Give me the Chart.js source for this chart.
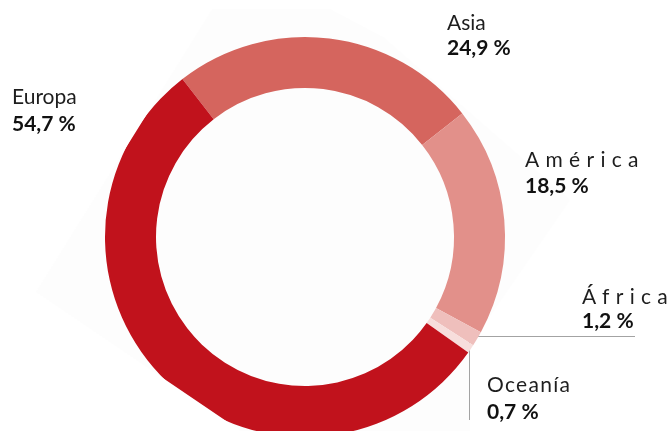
<!DOCTYPE html>
<html lang="es">
<head>
<meta charset="UTF-8">
<title>Distribución por continentes</title>
<script src="https://cdn.jsdelivr.net/npm/chart.js"></script>
<style>
  html, body { margin: 0; padding: 0; background: #ffffff; overflow: hidden; }
  #wrap { position: relative; width: 670px; height: 440px; }
</style>
</head>
<body>
<div id="wrap"><canvas id="donut"></canvas></div>
<script>
// Shares by region, clockwise starting from Asia
const regions = ["Asia", "América", "África", "Oceanía", "Europa"];
const shares = [24.9, 18.5, 1.2, 0.7, 54.7];
const colors = ["#d5655e", "#e2908a", "#efbfbc", "#f7dedc", "#c1121c"];

// Label placement: x, baseline of name, baseline of value, letter spacing
const labelPos = {
  "Asia":    { x: 447, y1: 30,  y2: 55,  spacing: 0 },
  "América": { x: 525, y1: 167, y2: 193, spacing: 6.3 },
  "África":  { x: 582, y1: 304, y2: 328, spacing: 6.3 },
  "Oceanía": { x: 487, y1: 392, y2: 419, spacing: 1.3 },
  "Europa":  { x: 12,  y1: 104, y2: 131, spacing: 0 }
};

const fmt = (v) => v.toFixed(1).replace(".", ",") + " %";

// faint backdrop shape behind the ring, and the white area that cuts its left side
const backdrop = [[212, 9], [330, 9], [383, 37], [570, 200], [470, 345], [470, 431], [241, 431], [36, 292]];
const cutaway = [[0, 0], [218, 0], [36, 292], [241, 431], [0, 431]];

function fillPoly(ctx, pts, color) {
  ctx.beginPath();
  pts.forEach(([x, y], i) => (i ? ctx.lineTo(x, y) : ctx.moveTo(x, y)));
  ctx.closePath();
  ctx.fillStyle = color;
  ctx.fill();
}

const decor = {
  id: "decor",
  beforeDraw(chart) {
    const ctx = chart.ctx;
    ctx.save();
    ctx.fillStyle = "#ffffff";
    ctx.fillRect(0, 0, chart.width, chart.height);
    fillPoly(ctx, backdrop, "#fdfdfd");
    ctx.restore();
  },
  beforeDatasetsDraw(chart) {
    // leader lines for the two small slices, partly hidden under the ring
    const ctx = chart.ctx;
    ctx.save();
    ctx.strokeStyle = "#a3a3a3";
    ctx.lineWidth = 1;
    ctx.beginPath();
    ctx.moveTo(469.5, 336.5);
    ctx.lineTo(635, 336.5);
    ctx.moveTo(469.5, 336.5);
    ctx.lineTo(469.5, 420);
    ctx.stroke();
    ctx.restore();
  },
  afterDatasetsDraw(chart) {
    const ctx = chart.ctx;
    ctx.save();
    fillPoly(ctx, cutaway, "#ffffff");
    ctx.restore();
  },
  afterDraw(chart) {
    const ctx = chart.ctx;
    ctx.save();
    ctx.textAlign = "left";
    ctx.textBaseline = "alphabetic";
    regions.forEach((name, i) => {
      const p = labelPos[name];
      ctx.letterSpacing = p.spacing + "px";
      ctx.font = "400 21px Lato";
      ctx.fillStyle = "#1e1e1e";
      ctx.fillText(name, p.x, p.y1);
      ctx.letterSpacing = "0px";
      ctx.font = "700 21px Lato";
      ctx.fillStyle = "#111111";
      ctx.fillText(fmt(shares[i]), p.x, p.y2);
    });
    ctx.restore();
  }
};

new Chart(document.getElementById("donut"), {
  type: "doughnut",
  data: {
    labels: regions,
    datasets: [{
      data: shares,
      backgroundColor: colors,
      borderWidth: 0,
      hoverOffset: 0
    }]
  },
  options: {
    responsive: true,
    maintainAspectRatio: false,
    animation: false,
    rotation: -37.8,
    cutout: "74.5%",
    layout: { padding: { left: 105, right: 165, top: 37, bottom: 3 } },
    plugins: {
      legend: { display: false },
      tooltip: { enabled: false }
    }
  },
  plugins: [decor]
});
</script>
</body>
</html>
